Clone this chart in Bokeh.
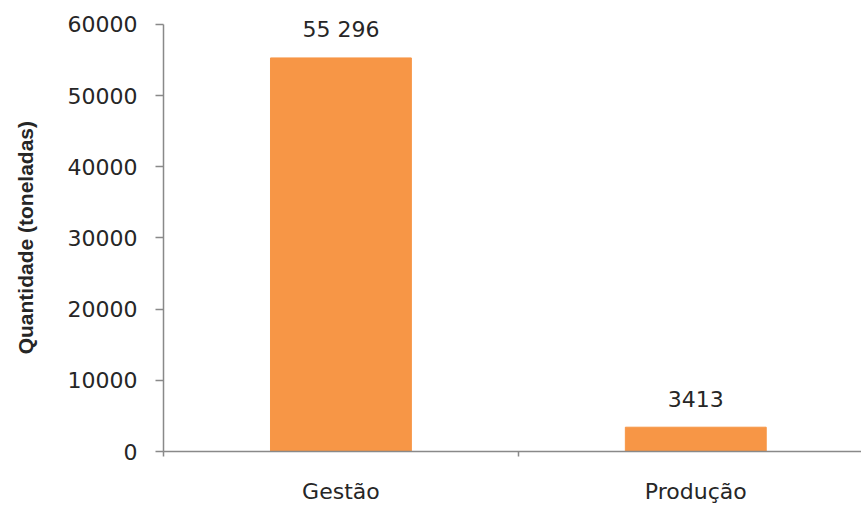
from bokeh.plotting import figure
from bokeh.models import Range1d, FixedTicker, ColumnDataSource, NumeralTickFormatter
from bokeh.core.properties import value
from bokeh.embed import file_html
from bokeh.resources import INLINE

categories = ["Gestão", "Produção"]
quantities = [55296, 3413]
value_labels = ["55 296", "3413"]
y_ticks = [0, 10000, 20000, 30000, 40000, 50000, 60000]

xs = [i + 0.5 for i in range(len(categories))]
src = ColumnDataSource(dict(x=xs, top=quantities, label=value_labels))

FONT = "DejaVu Sans"
TXT = "#262626"
AX = "#898989"

p = figure(width=861, height=506, output_backend="svg", toolbar_location=None,
           x_range=Range1d(0, 1.967), y_range=Range1d(0, 63365),
           min_border_left=163, min_border_right=0, min_border_top=0, min_border_bottom=54)
p.vbar(x="x", top="top", width=0.397, source=src, color="#F79646")
p.text(x="x", y="top", text="label", source=src, text_align="center",
       text_baseline="alphabetic", y_offset=-28, text_font=value(FONT),
       text_font_size="22px", text_color=TXT)

p.xgrid.visible = False
p.ygrid.visible = False
p.outline_line_color = None
p.background_fill_color = "white"
p.border_fill_color = "white"

ya = p.yaxis[0]
ya.bounds = (0, 60000)
ya.ticker = FixedTicker(ticks=y_ticks)
ya.formatter = NumeralTickFormatter(format="0")
ya.major_tick_out = 8
ya.major_tick_in = 0
ya.minor_tick_out = 0
ya.minor_tick_in = 0
ya.axis_line_color = AX
ya.axis_line_width = 1.5
ya.major_tick_line_color = AX
ya.major_tick_line_width = 1.5
ya.major_label_text_font = FONT
ya.major_label_text_font_size = "22px"
ya.major_label_text_color = TXT
ya.major_label_standoff = 18
ya.axis_label = "Quantidade (toneladas)" + "\u00a0" * 4
ya.axis_label_text_font = "'Liberation Sans Narrow', 'Liberation Sans', sans-serif"
ya.axis_label_text_font_style = "bold"
ya.axis_label_text_font_size = "21px"
ya.axis_label_text_color = TXT
ya.axis_label_standoff = 28

xa = p.xaxis[0]
xa.ticker = FixedTicker(ticks=xs, minor_ticks=[0, 1])
xa.major_label_overrides = {x: c for x, c in zip(xs, categories)}
xa.major_tick_out = 0
xa.major_tick_in = 0
xa.minor_tick_out = 5
xa.minor_tick_in = 0
xa.minor_tick_line_color = AX
xa.minor_tick_line_width = 1.5
xa.axis_line_color = AX
xa.axis_line_width = 1.5
xa.major_label_text_font = FONT
xa.major_label_text_font_size = "22px"
xa.major_label_text_color = TXT
xa.major_label_standoff = 22

open("out.html", "w").write(file_html(p, INLINE))
